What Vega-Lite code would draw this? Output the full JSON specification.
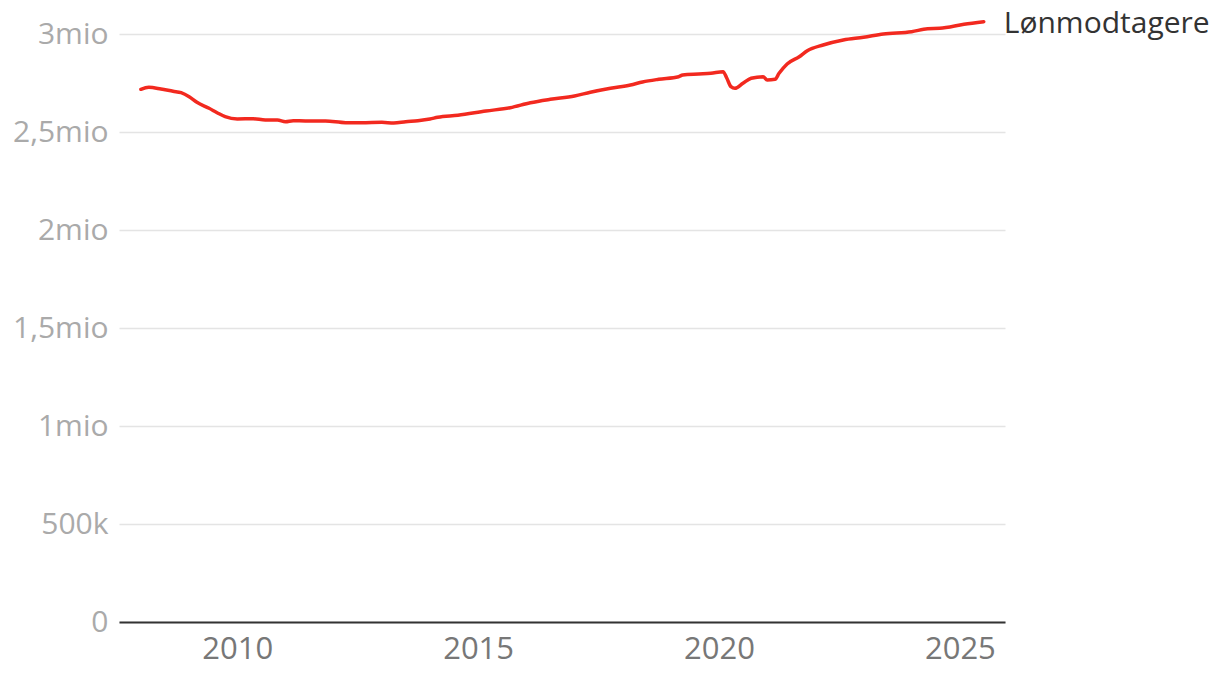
{
  "$schema": "https://vega.github.io/schema/vega-lite/v6.json",
  "width": 886,
  "height": 588,
  "autosize": "none",
  "padding": {"left": 119, "top": 34, "right": 215, "bottom": 56},
  "background": "white",
  "config": {
    "view": {"stroke": null},
    "font": "Open Sans"
  },
  "data": {
    "values": [
      {"date": "2008-01-01", "v": 2717900},
      {"date": "2008-03-01", "v": 2728000},
      {"date": "2008-06-01", "v": 2719400},
      {"date": "2008-09-01", "v": 2707700},
      {"date": "2008-11-01", "v": 2700500},
      {"date": "2009-01-01", "v": 2680100},
      {"date": "2009-03-01", "v": 2651500},
      {"date": "2009-06-01", "v": 2620900},
      {"date": "2009-08-01", "v": 2598500},
      {"date": "2009-10-01", "v": 2578100},
      {"date": "2010-01-01", "v": 2566300},
      {"date": "2010-05-01", "v": 2567900},
      {"date": "2010-08-01", "v": 2561200},
      {"date": "2010-11-01", "v": 2561200},
      {"date": "2011-01-01", "v": 2552600},
      {"date": "2011-03-01", "v": 2557700},
      {"date": "2011-06-01", "v": 2556100},
      {"date": "2011-11-01", "v": 2556100},
      {"date": "2012-04-01", "v": 2547500},
      {"date": "2012-08-01", "v": 2547500},
      {"date": "2013-01-01", "v": 2549500},
      {"date": "2013-04-01", "v": 2545900},
      {"date": "2013-07-01", "v": 2552600},
      {"date": "2013-10-01", "v": 2557700},
      {"date": "2014-01-01", "v": 2566300},
      {"date": "2014-03-01", "v": 2575000},
      {"date": "2014-08-01", "v": 2585200},
      {"date": "2015-03-01", "v": 2607100},
      {"date": "2015-09-01", "v": 2624000},
      {"date": "2016-02-01", "v": 2649500},
      {"date": "2016-07-01", "v": 2666800},
      {"date": "2017-01-01", "v": 2683700},
      {"date": "2017-05-01", "v": 2702600},
      {"date": "2017-10-01", "v": 2722900},
      {"date": "2018-03-01", "v": 2739800},
      {"date": "2018-06-01", "v": 2755100},
      {"date": "2018-10-01", "v": 2768900},
      {"date": "2019-03-01", "v": 2782200},
      {"date": "2019-04-01", "v": 2790800},
      {"date": "2019-08-01", "v": 2795900},
      {"date": "2019-11-01", "v": 2799500},
      {"date": "2020-02-01", "v": 2807700},
      {"date": "2020-03-01", "v": 2774000},
      {"date": "2020-04-01", "v": 2731200},
      {"date": "2020-05-01", "v": 2722900},
      {"date": "2020-07-01", "v": 2748500},
      {"date": "2020-09-01", "v": 2774000},
      {"date": "2020-12-01", "v": 2782200},
      {"date": "2021-01-01", "v": 2765300},
      {"date": "2021-03-01", "v": 2768900},
      {"date": "2021-04-01", "v": 2799500},
      {"date": "2021-06-01", "v": 2847000},
      {"date": "2021-09-01", "v": 2884200},
      {"date": "2021-11-01", "v": 2914800},
      {"date": "2022-03-01", "v": 2943900},
      {"date": "2022-08-01", "v": 2969400},
      {"date": "2023-01-01", "v": 2983200},
      {"date": "2023-06-01", "v": 3000000},
      {"date": "2024-01-01", "v": 3011700},
      {"date": "2024-05-01", "v": 3027000},
      {"date": "2024-08-01", "v": 3029000},
      {"date": "2025-02-01", "v": 3049500},
      {"date": "2025-07-01", "v": 3062800, "label": "Lønmodtagere"}
    ]
  },
  "encoding": {
    "x": {
      "field": "date",
      "type": "temporal",
      "scale": {"domain": ["2007-07-19", "2025-12-09"]},
      "axis": {
        "title": null,
        "grid": false,
        "ticks": false,
        "domainColor": "#333333",
        "domainWidth": 2,
        "labelColor": "#777777",
        "labelFontSize": 31,
        "labelPadding": 12,
        "tickCount": {"interval": "year", "step": 5},
        "format": "%Y",
        "labelFlush": false
      }
    },
    "y": {
      "field": "v",
      "type": "quantitative",
      "scale": {"domain": [0, 3000000], "nice": false},
      "axis": {
        "title": null,
        "values": [0, 500000, 1000000, 1500000, 2000000, 2500000, 3000000],
        "domain": false,
        "ticks": false,
        "gridColor": "#e4e4e4",
        "gridWidth": 1.5,
        "labelColor": "#aaaaaa",
        "labelFontSize": 30,
        "labelPadding": 11,
        "labelExpr": "datum.value >= 1000000 ? replace(format(datum.value/1000000, '~g'), '.', ',') + 'mio' : (datum.value == 0 ? '0' : format(datum.value/1000, 'd') + 'k')"
      }
    }
  },
  "layer": [
    {
      "mark": {"type": "line", "color": "#f2291f", "strokeWidth": 3.5, "clip": false, "strokeJoin": "round", "strokeCap": "round", "interpolate": "monotone"}
    },
    {
      "transform": [{"filter": "datum.label != null"}],
      "mark": {"type": "text", "align": "left", "baseline": "middle", "dx": 20, "dy": 2, "fontSize": 30, "color": "#333333"},
      "encoding": {"text": {"field": "label"}}
    }
  ]
}
